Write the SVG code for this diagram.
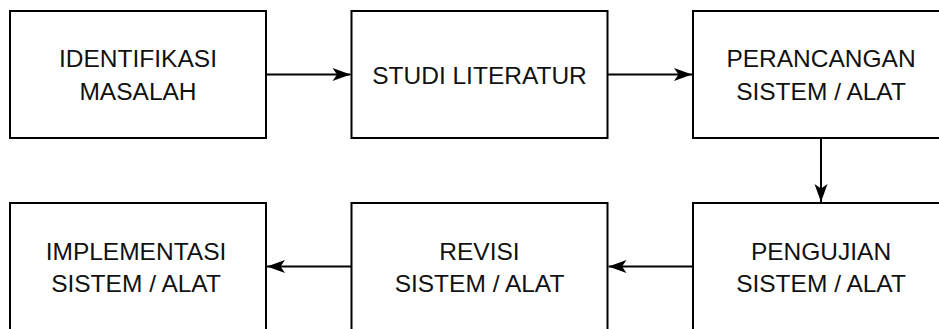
<svg xmlns="http://www.w3.org/2000/svg" width="939" height="329" viewBox="0 0 939 329">
<style>
.box{fill:#fff;stroke:#000;stroke-width:2}
.lbl{font-family:"Liberation Sans",Arial,sans-serif;font-size:24.5px;fill:#111;text-anchor:middle}
.edge{fill:none;stroke:#000;stroke-width:2}
</style>
<defs>
<marker id="arr" markerUnits="userSpaceOnUse" markerWidth="20" markerHeight="14" refX="18" refY="6.5" orient="auto" overflow="visible">
<path d="M0,0 L18,6.5 L0,13 L4.5,6.5 Z" fill="#000"/>
</marker>
</defs>
<rect width="939" height="329" fill="#fff"/>
<g id="n1"><rect class="box" x="10" y="11" width="256" height="127"/>
<text class="lbl" x="138" y="67">IDENTIFIKASI</text><text class="lbl" x="138" y="99.5">MASALAH</text></g>
<g id="n2"><rect class="box" x="351.5" y="11" width="256" height="127"/>
<text class="lbl" x="479.5" y="83.5">STUDI LITERATUR</text></g>
<g id="n3"><rect class="box" x="693" y="11" width="256" height="127"/>
<text class="lbl" x="821" y="67">PERANCANGAN</text><text class="lbl" x="821" y="99.5">SISTEM / ALAT</text></g>
<g id="n4"><rect class="box" x="693" y="203" width="256" height="127"/>
<text class="lbl" x="821" y="260">PENGUJIAN</text><text class="lbl" x="821" y="292">SISTEM / ALAT</text></g>
<g id="n5"><rect class="box" x="351.5" y="203" width="256" height="127"/>
<text class="lbl" x="479.5" y="260">REVISI</text><text class="lbl" x="479.5" y="292">SISTEM / ALAT</text></g>
<g id="n6"><rect class="box" x="10" y="203" width="256" height="127"/>
<text class="lbl" x="136" y="260">IMPLEMENTASI</text><text class="lbl" x="136" y="292">SISTEM / ALAT</text></g>
<g id="edges">
<path class="edge" d="M266,74.5 H350.5" marker-end="url(#arr)"/>
<path class="edge" d="M607.5,74.5 H692" marker-end="url(#arr)"/>
<path class="edge" d="M821,138 V202" marker-end="url(#arr)"/>
<path class="edge" d="M693,266.5 H608.5" marker-end="url(#arr)"/>
<path class="edge" d="M351.5,266.5 H267" marker-end="url(#arr)"/>
</g>
</svg>
